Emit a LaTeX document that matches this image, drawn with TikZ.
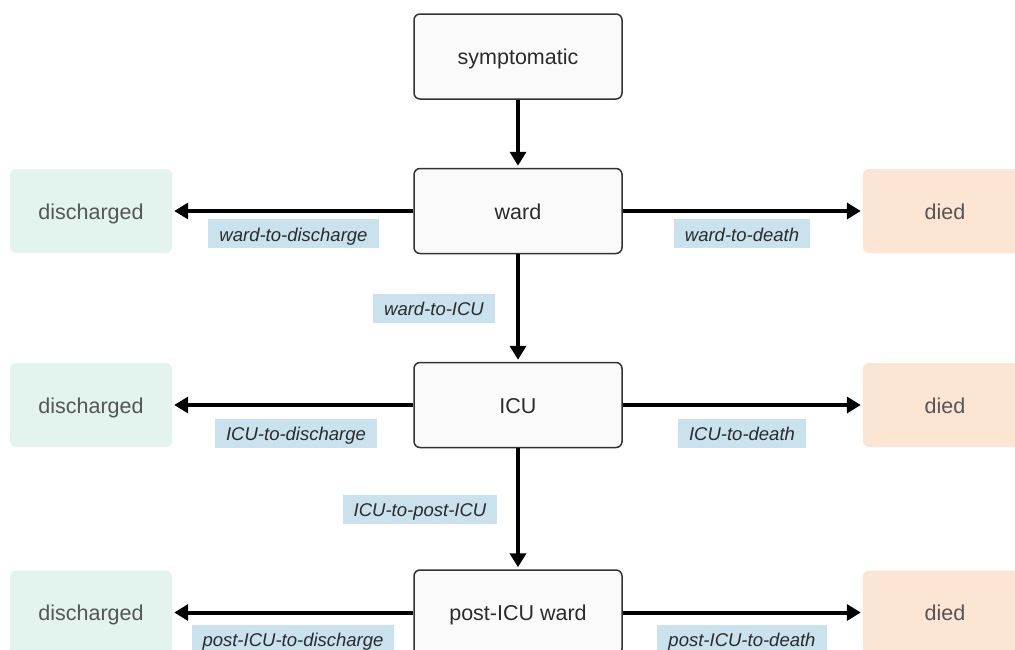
\documentclass[tikz,border=0pt]{standalone}
\usepackage{fontspec}
\setmainfont{Liberation Sans}
\usetikzlibrary{arrows.meta}
\definecolor{boxfill}{HTML}{FAFAFA}
\definecolor{boxdraw}{HTML}{333333}
\definecolor{dischfill}{HTML}{E3F4EF}
\definecolor{diedfill}{HTML}{FCE5D3}
\definecolor{lblfill}{HTML}{C9E2EE}
\definecolor{txtdark}{HTML}{2B2B2B}
\definecolor{txtgray}{HTML}{555555}
\tikzset{
  bigtext/.style={font=\fontsize{21.5}{25}\selectfont, text height=18.3pt, text depth=2.2pt},
  statebox/.style={draw=boxdraw, line width=1.5pt, fill=boxfill, rounded corners=6pt,
    minimum width=208pt, minimum height=85pt, inner sep=0pt, bigtext, text=txtdark},
  dischbox/.style={fill=dischfill, rounded corners=6pt, minimum width=162pt, minimum height=84pt,
    inner sep=0pt, bigtext, text=txtgray},
  diedbox/.style={fill=diedfill, rounded corners=6pt, minimum width=164pt, minimum height=84pt,
    inner sep=0pt, bigtext, text=txtgray},
  lbl/.style={fill=lblfill, inner xsep=11pt, inner ysep=0pt, minimum height=29pt,
    font=\fontsize{18.5}{22}\selectfont\itshape, text height=15.7pt, text depth=1.1pt, text=txtdark},
  flow/.style={line width=4pt, -{Triangle[length=14pt,width=16pt]}, shorten >=2pt}
}
\begin{document}
\begin{tikzpicture}[x=1pt,y=-1pt]
\useasboundingbox (0,0) rectangle (1015,649);
\clip (0,0) rectangle (1015,649);
\node[statebox] (symp) at (518,56.5) {symptomatic};
\node[statebox] (ward) at (518,211) {ward};
\node[statebox] (icu) at (518,405) {ICU};
\node[statebox] (post) at (518,612.5) {post-ICU ward};
\node[dischbox] (d1) at (91,211) {discharged};
\node[dischbox] (d2) at (91,405) {discharged};
\node[dischbox] (d3) at (91,612.5) {discharged};
\node[diedbox] (x1) at (945,211) {died};
\node[diedbox] (x2) at (945,405) {died};
\node[diedbox] (x3) at (945,612.5) {died};
\draw[flow] (symp) -- (ward);
\draw[flow] (ward) -- (icu);
\draw[flow] (icu) -- (post);
\draw[flow] (ward) -- (d1);
\draw[flow] (ward) -- (x1);
\draw[flow] (icu) -- (d2);
\draw[flow] (icu) -- (x2);
\draw[flow] (post) -- (d3);
\draw[flow] (post) -- (x3);
\node[lbl] (l1) at (293.5,233.7) {ward-to-discharge};
\node[lbl] (l2) at (742,233.7) {ward-to-death};
\node[lbl] (l3) at (434,308) {ward-to-ICU};
\node[lbl] (l4) at (296,433) {ICU-to-discharge};
\node[lbl] (l5) at (742,433) {ICU-to-death};
\node[lbl] (l6) at (420,509) {ICU-to-post-ICU};
\node[lbl] (l7) at (293,639) {post-ICU-to-discharge};
\node[lbl] (l8) at (742,639) {post-ICU-to-death};
\end{tikzpicture}
\end{document}
